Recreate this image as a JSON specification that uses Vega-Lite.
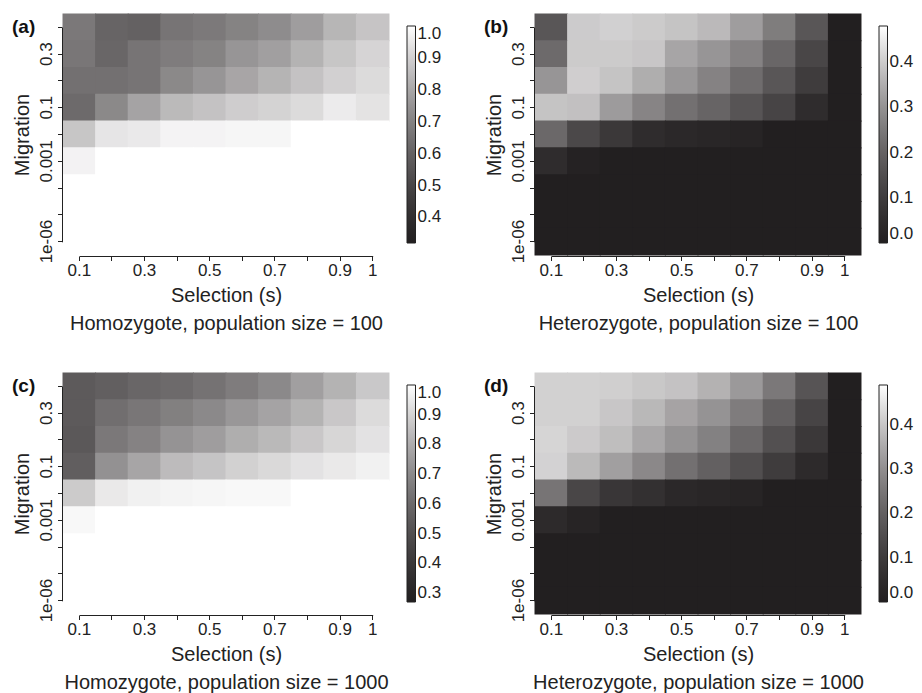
{
  "$schema": "https://vega.github.io/schema/vega-lite/v6.json",
  "autosize": {"type": "none"},
  "padding": {"left": 63, "top": 14, "right": 859, "bottom": 679},
  "background": "white",
  "config": {
    "font": "Liberation Sans",
    "view": {"stroke": null},
    "axis": {"domainColor": "#222", "domainWidth": 1, "tickColor": "#222", "tickWidth": 1, "tickSize": 4.5, "labelColor": "#222", "titleColor": "#222", "labelFontSize": 17, "titleFontSize": 20, "titleFontWeight": "normal", "grid": false, "offset": 1, "labelPadding": 2, "labelOverlap": false},
    "axisX": {"labelAngle": 0, "domainDash": [0, 16.3, 293.4, 60], "titleLineHeight": 28, "titleBaseline": "top", "titleX": 163, "titleY": 29},
    "axisY": {"labelAngle": 270, "domainDash": [0, 13.4, 214.4, 60], "titleAngle": 270, "titleBaseline": "alphabetic", "titleX": -34, "titleY": 120.5},
    "legend": {"orient": "none", "legendX": 344, "legendY": 12, "direction": "vertical", "gradientLength": 217, "gradientThickness": 8.5, "gradientStrokeColor": "#222", "gradientStrokeWidth": 1, "labelFontSize": 17, "labelColor": "#222", "labelOffset": 7, "labelBaseline": "middle", "labelOverlap": false, "padding": 0}
  },
  "datasets": {
    "a": [
      {"m":"0.5","s":"0.1","v":0.673},{"m":"0.5","s":"0.2","v":0.610},{"m":"0.5","s":"0.3","v":0.600},{"m":"0.5","s":"0.4","v":0.661},{"m":"0.5","s":"0.5","v":0.676},{"m":"0.5","s":"0.6","v":0.703},{"m":"0.5","s":"0.7","v":0.729},{"m":"0.5","s":"0.8","v":0.775},{"m":"0.5","s":"0.9","v":0.837},{"m":"0.5","s":"1","v":0.872},
      {"m":"0.3","s":"0.1","v":0.667},{"m":"0.3","s":"0.2","v":0.616},{"m":"0.3","s":"0.3","v":0.661},{"m":"0.3","s":"0.4","v":0.685},{"m":"0.3","s":"0.5","v":0.703},{"m":"0.3","s":"0.6","v":0.754},{"m":"0.3","s":"0.7","v":0.781},{"m":"0.3","s":"0.8","v":0.830},{"m":"0.3","s":"0.9","v":0.876},{"m":"0.3","s":"1","v":0.909},
      {"m":"0.2","s":"0.1","v":0.648},{"m":"0.2","s":"0.2","v":0.648},{"m":"0.2","s":"0.3","v":0.661},{"m":"0.2","s":"0.4","v":0.720},{"m":"0.2","s":"0.5","v":0.754},{"m":"0.2","s":"0.6","v":0.797},{"m":"0.2","s":"0.7","v":0.832},{"m":"0.2","s":"0.8","v":0.867},{"m":"0.2","s":"0.9","v":0.900},{"m":"0.2","s":"1","v":0.923},
      {"m":"0.1","s":"0.1","v":0.629},{"m":"0.1","s":"0.2","v":0.720},{"m":"0.1","s":"0.3","v":0.791},{"m":"0.1","s":"0.4","v":0.847},{"m":"0.1","s":"0.5","v":0.867},{"m":"0.1","s":"0.6","v":0.893},{"m":"0.1","s":"0.7","v":0.905},{"m":"0.1","s":"0.8","v":0.923},{"m":"0.1","s":"0.9","v":0.959},{"m":"0.1","s":"1","v":0.941},
      {"m":"0.01","s":"0.1","v":0.876},{"m":"0.01","s":"0.2","v":0.946},{"m":"0.01","s":"0.3","v":0.955},{"m":"0.01","s":"0.4","v":0.976},{"m":"0.01","s":"0.5","v":0.976},{"m":"0.01","s":"0.6","v":0.981},{"m":"0.01","s":"0.7","v":0.981},{"m":"0.01","s":"0.8","v":1},{"m":"0.01","s":"0.9","v":1},{"m":"0.01","s":"1","v":1},
      {"m":"0.001","s":"0.1","v":0.974},{"m":"0.001","s":"0.2","v":1},{"m":"0.001","s":"0.3","v":1},{"m":"0.001","s":"0.4","v":1},{"m":"0.001","s":"0.5","v":1},{"m":"0.001","s":"0.6","v":1},{"m":"0.001","s":"0.7","v":1},{"m":"0.001","s":"0.8","v":1},{"m":"0.001","s":"0.9","v":1},{"m":"0.001","s":"1","v":1},
      {"m":"1e-04","s":"0.1","v":1},{"m":"1e-04","s":"0.2","v":1},{"m":"1e-04","s":"0.3","v":1},{"m":"1e-04","s":"0.4","v":1},{"m":"1e-04","s":"0.5","v":1},{"m":"1e-04","s":"0.6","v":1},{"m":"1e-04","s":"0.7","v":1},{"m":"1e-04","s":"0.8","v":1},{"m":"1e-04","s":"0.9","v":1},{"m":"1e-04","s":"1","v":1},
      {"m":"1e-05","s":"0.1","v":1},{"m":"1e-05","s":"0.2","v":1},{"m":"1e-05","s":"0.3","v":1},{"m":"1e-05","s":"0.4","v":1},{"m":"1e-05","s":"0.5","v":1},{"m":"1e-05","s":"0.6","v":1},{"m":"1e-05","s":"0.7","v":1},{"m":"1e-05","s":"0.8","v":1},{"m":"1e-05","s":"0.9","v":1},{"m":"1e-05","s":"1","v":1},
      {"m":"1e-06","s":"0.1","v":1},{"m":"1e-06","s":"0.2","v":1},{"m":"1e-06","s":"0.3","v":1},{"m":"1e-06","s":"0.4","v":1},{"m":"1e-06","s":"0.5","v":1},{"m":"1e-06","s":"0.6","v":1},{"m":"1e-06","s":"0.7","v":1},{"m":"1e-06","s":"0.8","v":1},{"m":"1e-06","s":"0.9","v":1},{"m":"1e-06","s":"1","v":1}
    ],
    "b": [
      {"m":"0.5","s":"0.1","v":0.170},{"m":"0.5","s":"0.2","v":0.401},{"m":"0.5","s":"0.3","v":0.409},{"m":"0.5","s":"0.4","v":0.400},{"m":"0.5","s":"0.5","v":0.389},{"m":"0.5","s":"0.6","v":0.371},{"m":"0.5","s":"0.7","v":0.321},{"m":"0.5","s":"0.8","v":0.258},{"m":"0.5","s":"0.9","v":0.170},{"m":"0.5","s":"1","v":0},
      {"m":"0.3","s":"0.1","v":0.218},{"m":"0.3","s":"0.2","v":0.400},{"m":"0.3","s":"0.3","v":0.400},{"m":"0.3","s":"0.4","v":0.393},{"m":"0.3","s":"0.5","v":0.336},{"m":"0.3","s":"0.6","v":0.306},{"m":"0.3","s":"0.7","v":0.270},{"m":"0.3","s":"0.8","v":0.209},{"m":"0.3","s":"0.9","v":0.128},{"m":"0.3","s":"1","v":0},
      {"m":"0.2","s":"0.1","v":0.306},{"m":"0.2","s":"0.2","v":0.406},{"m":"0.2","s":"0.3","v":0.389},{"m":"0.2","s":"0.4","v":0.351},{"m":"0.2","s":"0.5","v":0.310},{"m":"0.2","s":"0.6","v":0.270},{"m":"0.2","s":"0.7","v":0.223},{"m":"0.2","s":"0.8","v":0.170},{"m":"0.2","s":"0.9","v":0.100},{"m":"0.2","s":"1","v":0},
      {"m":"0.1","s":"0.1","v":0.389},{"m":"0.1","s":"0.2","v":0.383},{"m":"0.1","s":"0.3","v":0.318},{"m":"0.1","s":"0.4","v":0.274},{"m":"0.1","s":"0.5","v":0.232},{"m":"0.1","s":"0.6","v":0.204},{"m":"0.1","s":"0.7","v":0.165},{"m":"0.1","s":"0.8","v":0.123},{"m":"0.1","s":"0.9","v":0.048},{"m":"0.1","s":"1","v":0},
      {"m":"0.01","s":"0.1","v":0.214},{"m":"0.01","s":"0.2","v":0.134},{"m":"0.01","s":"0.3","v":0.087},{"m":"0.01","s":"0.4","v":0.048},{"m":"0.01","s":"0.5","v":0.034},{"m":"0.01","s":"0.6","v":0.027},{"m":"0.01","s":"0.7","v":0.020},{"m":"0.01","s":"0.8","v":0},{"m":"0.01","s":"0.9","v":0},{"m":"0.01","s":"1","v":0},
      {"m":"0.001","s":"0.1","v":0.048},{"m":"0.001","s":"0.2","v":0.012},{"m":"0.001","s":"0.3","v":0},{"m":"0.001","s":"0.4","v":0},{"m":"0.001","s":"0.5","v":0},{"m":"0.001","s":"0.6","v":0},{"m":"0.001","s":"0.7","v":0},{"m":"0.001","s":"0.8","v":0},{"m":"0.001","s":"0.9","v":0},{"m":"0.001","s":"1","v":0},
      {"m":"1e-04","s":"0.1","v":0},{"m":"1e-04","s":"0.2","v":0},{"m":"1e-04","s":"0.3","v":0},{"m":"1e-04","s":"0.4","v":0},{"m":"1e-04","s":"0.5","v":0},{"m":"1e-04","s":"0.6","v":0},{"m":"1e-04","s":"0.7","v":0},{"m":"1e-04","s":"0.8","v":0},{"m":"1e-04","s":"0.9","v":0},{"m":"1e-04","s":"1","v":0},
      {"m":"1e-05","s":"0.1","v":0},{"m":"1e-05","s":"0.2","v":0},{"m":"1e-05","s":"0.3","v":0},{"m":"1e-05","s":"0.4","v":0},{"m":"1e-05","s":"0.5","v":0},{"m":"1e-05","s":"0.6","v":0},{"m":"1e-05","s":"0.7","v":0},{"m":"1e-05","s":"0.8","v":0},{"m":"1e-05","s":"0.9","v":0},{"m":"1e-05","s":"1","v":0},
      {"m":"1e-06","s":"0.1","v":0},{"m":"1e-06","s":"0.2","v":0},{"m":"1e-06","s":"0.3","v":0},{"m":"1e-06","s":"0.4","v":0},{"m":"1e-06","s":"0.5","v":0},{"m":"1e-06","s":"0.6","v":0},{"m":"1e-06","s":"0.7","v":0},{"m":"1e-06","s":"0.8","v":0},{"m":"1e-06","s":"0.9","v":0},{"m":"1e-06","s":"1","v":0}
    ],
    "c": [
      {"m":"0.5","s":"0.1","v":0.544},{"m":"0.5","s":"0.2","v":0.563},{"m":"0.5","s":"0.3","v":0.588},{"m":"0.5","s":"0.4","v":0.602},{"m":"0.5","s":"0.5","v":0.629},{"m":"0.5","s":"0.6","v":0.662},{"m":"0.5","s":"0.7","v":0.700},{"m":"0.5","s":"0.8","v":0.765},{"m":"0.5","s":"0.9","v":0.817},{"m":"0.5","s":"1","v":0.872},
      {"m":"0.3","s":"0.1","v":0.544},{"m":"0.3","s":"0.2","v":0.616},{"m":"0.3","s":"0.3","v":0.643},{"m":"0.3","s":"0.4","v":0.672},{"m":"0.3","s":"0.5","v":0.700},{"m":"0.3","s":"0.6","v":0.742},{"m":"0.3","s":"0.7","v":0.776},{"m":"0.3","s":"0.8","v":0.817},{"m":"0.3","s":"0.9","v":0.870},{"m":"0.3","s":"1","v":0.917},
      {"m":"0.2","s":"0.1","v":0.537},{"m":"0.2","s":"0.2","v":0.649},{"m":"0.2","s":"0.3","v":0.681},{"m":"0.2","s":"0.4","v":0.730},{"m":"0.2","s":"0.5","v":0.759},{"m":"0.2","s":"0.6","v":0.804},{"m":"0.2","s":"0.7","v":0.833},{"m":"0.2","s":"0.8","v":0.870},{"m":"0.2","s":"0.9","v":0.905},{"m":"0.2","s":"1","v":0.935},
      {"m":"0.1","s":"0.1","v":0.559},{"m":"0.1","s":"0.2","v":0.724},{"m":"0.1","s":"0.3","v":0.782},{"m":"0.1","s":"0.4","v":0.839},{"m":"0.1","s":"0.5","v":0.862},{"m":"0.1","s":"0.6","v":0.893},{"m":"0.1","s":"0.7","v":0.913},{"m":"0.1","s":"0.8","v":0.935},{"m":"0.1","s":"0.9","v":0.951},{"m":"0.1","s":"1","v":0.968},
      {"m":"0.01","s":"0.1","v":0.878},{"m":"0.01","s":"0.2","v":0.951},{"m":"0.01","s":"0.3","v":0.968},{"m":"0.01","s":"0.4","v":0.975},{"m":"0.01","s":"0.5","v":0.979},{"m":"0.01","s":"0.6","v":0.984},{"m":"0.01","s":"0.7","v":0.984},{"m":"0.01","s":"0.8","v":1},{"m":"0.01","s":"0.9","v":1},{"m":"0.01","s":"1","v":1},
      {"m":"0.001","s":"0.1","v":0.984},{"m":"0.001","s":"0.2","v":1},{"m":"0.001","s":"0.3","v":1},{"m":"0.001","s":"0.4","v":1},{"m":"0.001","s":"0.5","v":1},{"m":"0.001","s":"0.6","v":1},{"m":"0.001","s":"0.7","v":1},{"m":"0.001","s":"0.8","v":1},{"m":"0.001","s":"0.9","v":1},{"m":"0.001","s":"1","v":1},
      {"m":"1e-04","s":"0.1","v":1},{"m":"1e-04","s":"0.2","v":1},{"m":"1e-04","s":"0.3","v":1},{"m":"1e-04","s":"0.4","v":1},{"m":"1e-04","s":"0.5","v":1},{"m":"1e-04","s":"0.6","v":1},{"m":"1e-04","s":"0.7","v":1},{"m":"1e-04","s":"0.8","v":1},{"m":"1e-04","s":"0.9","v":1},{"m":"1e-04","s":"1","v":1},
      {"m":"1e-05","s":"0.1","v":1},{"m":"1e-05","s":"0.2","v":1},{"m":"1e-05","s":"0.3","v":1},{"m":"1e-05","s":"0.4","v":1},{"m":"1e-05","s":"0.5","v":1},{"m":"1e-05","s":"0.6","v":1},{"m":"1e-05","s":"0.7","v":1},{"m":"1e-05","s":"0.8","v":1},{"m":"1e-05","s":"0.9","v":1},{"m":"1e-05","s":"1","v":1},
      {"m":"1e-06","s":"0.1","v":1},{"m":"1e-06","s":"0.2","v":1},{"m":"1e-06","s":"0.3","v":1},{"m":"1e-06","s":"0.4","v":1},{"m":"1e-06","s":"0.5","v":1},{"m":"1e-06","s":"0.6","v":1},{"m":"1e-06","s":"0.7","v":1},{"m":"1e-06","s":"0.8","v":1},{"m":"1e-06","s":"0.9","v":1},{"m":"1e-06","s":"1","v":1}
    ],
    "d": [
      {"m":"0.5","s":"0.1","v":0.418},{"m":"0.5","s":"0.2","v":0.418},{"m":"0.5","s":"0.3","v":0.415},{"m":"0.5","s":"0.4","v":0.404},{"m":"0.5","s":"0.5","v":0.394},{"m":"0.5","s":"0.6","v":0.366},{"m":"0.5","s":"0.7","v":0.320},{"m":"0.5","s":"0.8","v":0.254},{"m":"0.5","s":"0.9","v":0.169},{"m":"0.5","s":"1","v":0},
      {"m":"0.3","s":"0.1","v":0.418},{"m":"0.3","s":"0.2","v":0.418},{"m":"0.3","s":"0.3","v":0.401},{"m":"0.3","s":"0.4","v":0.376},{"m":"0.3","s":"0.5","v":0.340},{"m":"0.3","s":"0.6","v":0.309},{"m":"0.3","s":"0.7","v":0.263},{"m":"0.3","s":"0.8","v":0.199},{"m":"0.3","s":"0.9","v":0.125},{"m":"0.3","s":"1","v":0},
      {"m":"0.2","s":"0.1","v":0.425},{"m":"0.2","s":"0.2","v":0.408},{"m":"0.2","s":"0.3","v":0.387},{"m":"0.2","s":"0.4","v":0.347},{"m":"0.2","s":"0.5","v":0.309},{"m":"0.2","s":"0.6","v":0.272},{"m":"0.2","s":"0.7","v":0.218},{"m":"0.2","s":"0.8","v":0.158},{"m":"0.2","s":"0.9","v":0.089},{"m":"0.2","s":"1","v":0},
      {"m":"0.1","s":"0.1","v":0.421},{"m":"0.1","s":"0.2","v":0.380},{"m":"0.1","s":"0.3","v":0.332},{"m":"0.1","s":"0.4","v":0.288},{"m":"0.1","s":"0.5","v":0.237},{"m":"0.1","s":"0.6","v":0.199},{"m":"0.1","s":"0.7","v":0.153},{"m":"0.1","s":"0.8","v":0.102},{"m":"0.1","s":"0.9","v":0.042},{"m":"0.1","s":"1","v":0},
      {"m":"0.01","s":"0.1","v":0.246},{"m":"0.01","s":"0.2","v":0.131},{"m":"0.01","s":"0.3","v":0.083},{"m":"0.01","s":"0.4","v":0.063},{"m":"0.01","s":"0.5","v":0.035},{"m":"0.01","s":"0.6","v":0.027},{"m":"0.01","s":"0.7","v":0.020},{"m":"0.01","s":"0.8","v":0},{"m":"0.01","s":"0.9","v":0},{"m":"0.01","s":"1","v":0},
      {"m":"0.001","s":"0.1","v":0.042},{"m":"0.001","s":"0.2","v":0.020},{"m":"0.001","s":"0.3","v":0},{"m":"0.001","s":"0.4","v":0},{"m":"0.001","s":"0.5","v":0},{"m":"0.001","s":"0.6","v":0},{"m":"0.001","s":"0.7","v":0},{"m":"0.001","s":"0.8","v":0},{"m":"0.001","s":"0.9","v":0},{"m":"0.001","s":"1","v":0},
      {"m":"1e-04","s":"0.1","v":0},{"m":"1e-04","s":"0.2","v":0},{"m":"1e-04","s":"0.3","v":0},{"m":"1e-04","s":"0.4","v":0},{"m":"1e-04","s":"0.5","v":0},{"m":"1e-04","s":"0.6","v":0},{"m":"1e-04","s":"0.7","v":0},{"m":"1e-04","s":"0.8","v":0},{"m":"1e-04","s":"0.9","v":0},{"m":"1e-04","s":"1","v":0},
      {"m":"1e-05","s":"0.1","v":0},{"m":"1e-05","s":"0.2","v":0},{"m":"1e-05","s":"0.3","v":0},{"m":"1e-05","s":"0.4","v":0},{"m":"1e-05","s":"0.5","v":0},{"m":"1e-05","s":"0.6","v":0},{"m":"1e-05","s":"0.7","v":0},{"m":"1e-05","s":"0.8","v":0},{"m":"1e-05","s":"0.9","v":0},{"m":"1e-05","s":"1","v":0},
      {"m":"1e-06","s":"0.1","v":0},{"m":"1e-06","s":"0.2","v":0},{"m":"1e-06","s":"0.3","v":0},{"m":"1e-06","s":"0.4","v":0},{"m":"1e-06","s":"0.5","v":0},{"m":"1e-06","s":"0.6","v":0},{"m":"1e-06","s":"0.7","v":0},{"m":"1e-06","s":"0.8","v":0},{"m":"1e-06","s":"0.9","v":0},{"m":"1e-06","s":"1","v":0}
    ]
  },
  "columns": 2,
  "spacing": {"row": 118, "column": 146},
  "bounds": "flush",
  "resolve": {"scale": {"color": "independent"}, "legend": {"color": "independent"}},
  "concat": [
    {
      "data": {"name": "a"},
      "width": 326, "height": 241,
      "title": {"text": "(a)", "anchor": "start", "frame": "group", "orient": "top", "offset": 0, "dx": -51, "dy": 39, "baseline": "alphabetic", "fontSize": 19, "fontWeight": "bold", "color": "#111"},
      "mark": {"type": "rect", "width": {"band": 1.03}, "height": {"band": 1.04}},
      "encoding": {
        "x": {"field": "s", "type": "ordinal", "sort": ["0.1","0.2","0.3","0.4","0.5","0.6","0.7","0.8","0.9","1"], "scale": {"paddingInner": 0, "paddingOuter": 0}, "axis": {"title": ["Selection (s)", "Homozygote, population size = 100"], "labelExpr": "indexof(['0.1','0.3','0.5','0.7','0.9','1'], datum.value) >= 0 ? datum.value : ''"}},
        "y": {"field": "m", "type": "ordinal", "sort": ["0.5","0.3","0.2","0.1","0.01","0.001","1e-04","1e-05","1e-06"], "scale": {"paddingInner": 0, "paddingOuter": 0}, "axis": {"title": "Migration", "labelExpr": "indexof(['0.3','0.1','0.001','1e-06'], datum.value) >= 0 ? datum.value : ''"}},
        "color": {"field": "v", "type": "quantitative", "scale": {"domain": [0.32, 1.0], "range": ["#221f20", "#ffffff"], "interpolate": {"type": "rgb", "gamma": 0.5}, "nice": false, "zero": false}, "legend": {"title": null, "values": [0.4, 0.5, 0.6, 0.7, 0.8, 0.9, 1.0], "format": ".1f"}}
      }
    },
    {
      "data": {"name": "b"},
      "width": 326, "height": 241,
      "title": {"text": "(b)", "anchor": "start", "frame": "group", "orient": "top", "offset": 0, "dx": -51, "dy": 39, "baseline": "alphabetic", "fontSize": 19, "fontWeight": "bold", "color": "#111"},
      "mark": {"type": "rect", "width": {"band": 1.03}, "height": {"band": 1.04}},
      "encoding": {
        "x": {"field": "s", "type": "ordinal", "sort": ["0.1","0.2","0.3","0.4","0.5","0.6","0.7","0.8","0.9","1"], "scale": {"paddingInner": 0, "paddingOuter": 0}, "axis": {"title": ["Selection (s)", "Heterozygote, population size = 100"], "labelExpr": "indexof(['0.1','0.3','0.5','0.7','0.9','1'], datum.value) >= 0 ? datum.value : ''"}},
        "y": {"field": "m", "type": "ordinal", "sort": ["0.5","0.3","0.2","0.1","0.01","0.001","1e-04","1e-05","1e-06"], "scale": {"paddingInner": 0, "paddingOuter": 0}, "axis": {"title": "Migration", "labelExpr": "indexof(['0.3','0.1','0.001','1e-06'], datum.value) >= 0 ? datum.value : ''"}},
        "color": {"field": "v", "type": "quantitative", "scale": {"domain": [0, 0.48], "range": ["#221f20", "#ffffff"], "interpolate": {"type": "rgb", "gamma": 0.5}, "nice": false, "zero": false}, "legend": {"title": null, "values": [0, 0.1, 0.2, 0.3, 0.4], "format": ".1f"}}
      }
    },
    {
      "data": {"name": "c"},
      "width": 326, "height": 241,
      "title": {"text": "(c)", "anchor": "start", "frame": "group", "orient": "top", "offset": 0, "dx": -51, "dy": 39, "baseline": "alphabetic", "fontSize": 19, "fontWeight": "bold", "color": "#111"},
      "mark": {"type": "rect", "width": {"band": 1.03}, "height": {"band": 1.04}},
      "encoding": {
        "x": {"field": "s", "type": "ordinal", "sort": ["0.1","0.2","0.3","0.4","0.5","0.6","0.7","0.8","0.9","1"], "scale": {"paddingInner": 0, "paddingOuter": 0}, "axis": {"title": ["Selection (s)", "Homozygote, population size = 1000"], "labelExpr": "indexof(['0.1','0.3','0.5','0.7','0.9','1'], datum.value) >= 0 ? datum.value : ''"}},
        "y": {"field": "m", "type": "ordinal", "sort": ["0.5","0.3","0.2","0.1","0.01","0.001","1e-04","1e-05","1e-06"], "scale": {"paddingInner": 0, "paddingOuter": 0}, "axis": {"title": "Migration", "labelExpr": "indexof(['0.3','0.1','0.001','1e-06'], datum.value) >= 0 ? datum.value : ''"}},
        "color": {"field": "v", "type": "quantitative", "scale": {"domain": [0.27, 1.0], "range": ["#221f20", "#ffffff"], "interpolate": {"type": "rgb", "gamma": 0.5}, "nice": false, "zero": false}, "legend": {"title": null, "values": [0.3, 0.4, 0.5, 0.6, 0.7, 0.8, 0.9, 1.0], "format": ".1f"}}
      }
    },
    {
      "data": {"name": "d"},
      "width": 326, "height": 241,
      "title": {"text": "(d)", "anchor": "start", "frame": "group", "orient": "top", "offset": 0, "dx": -51, "dy": 39, "baseline": "alphabetic", "fontSize": 19, "fontWeight": "bold", "color": "#111"},
      "mark": {"type": "rect", "width": {"band": 1.03}, "height": {"band": 1.04}},
      "encoding": {
        "x": {"field": "s", "type": "ordinal", "sort": ["0.1","0.2","0.3","0.4","0.5","0.6","0.7","0.8","0.9","1"], "scale": {"paddingInner": 0, "paddingOuter": 0}, "axis": {"title": ["Selection (s)", "Heterozygote, population size = 1000"], "labelExpr": "indexof(['0.1','0.3','0.5','0.7','0.9','1'], datum.value) >= 0 ? datum.value : ''"}},
        "y": {"field": "m", "type": "ordinal", "sort": ["0.5","0.3","0.2","0.1","0.01","0.001","1e-04","1e-05","1e-06"], "scale": {"paddingInner": 0, "paddingOuter": 0}, "axis": {"title": "Migration", "labelExpr": "indexof(['0.3','0.1','0.001','1e-06'], datum.value) >= 0 ? datum.value : ''"}},
        "color": {"field": "v", "type": "quantitative", "scale": {"domain": [0, 0.49], "range": ["#221f20", "#ffffff"], "interpolate": {"type": "rgb", "gamma": 0.5}, "nice": false, "zero": false}, "legend": {"title": null, "values": [0, 0.1, 0.2, 0.3, 0.4], "format": ".1f"}}
      }
    }
  ]
}
